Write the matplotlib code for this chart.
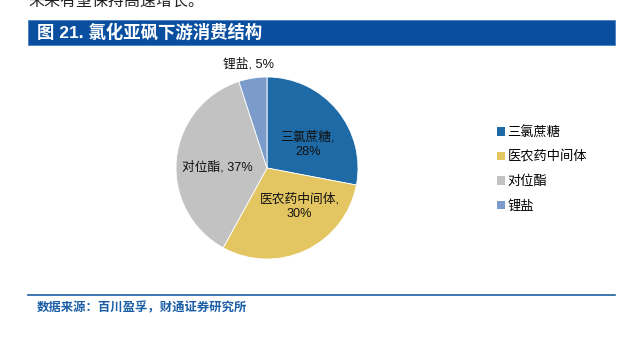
import matplotlib.pyplot as plt
from matplotlib.patches import Rectangle
from matplotlib.lines import Line2D

plt.rcParams["font.family"] = ["Liberation Sans", "Noto Sans CJK SC", "DejaVu Sans"]

categories = ["三氯蔗糖", "医农药中间体", "对位酯", "锂盐"]
shares = [28, 30, 37, 5]
colors = ["#1e6aa6", "#e3c662", "#c2c2c2", "#7b9ccb"]

W, H = 633, 338
fig = plt.figure(figsize=(W / 100, H / 100), dpi=100)


def fx(px):
    return px / W


def fy(py):
    return 1 - py / H


# line of body text cut off at the top edge
fig.text(fx(28), fy(6), "未来有望保持高速增长。", fontsize=11.5, color="#222222",
         va="baseline", ha="left")

# title bar
fig.patches.append(Rectangle((fx(27.5), fy(45)), fx(615) - fx(27.5), fy(19.5) - fy(45),
                             transform=fig.transFigure, facecolor="#0a4f9f",
                             edgecolor="#4a7fc0", linewidth=0.6))
fig.text(fx(37), fy(32.5), "图 21. 氯化亚砜下游消费结构", fontsize=12.5, color="white",
         fontweight="bold", va="center", ha="left")

# pie
cx, cy, r = 267, 168, 91
ax = fig.add_axes([fx(cx - r), fy(cy + r), 2 * r / W, 2 * r / H])
wedges, _ = ax.pie(shares, colors=colors, startangle=90, counterclock=False,
                   radius=1.0, wedgeprops=dict(linewidth=0.6, edgecolor="white"))
ax.set_xlim(-1, 1)
ax.set_ylim(-1, 1)
ax.set_aspect("equal")
ax.axis("off")

label_pos = [(0.45, 0.26), (0.36, -0.42), (-0.55, 0.01), (-0.20, 1.14)]
for name, val, (lx, ly) in zip(categories, shares, label_pos):
    txt = f"{name},\n{val}%" if name in ("三氯蔗糖", "医农药中间体") else f"{name}, {val}%"
    ax.text(lx, ly, txt, ha="center", va="center", fontsize=9.2, color="#111111",
            linespacing=1.25, clip_on=False)

# legend
handles = [Rectangle((0, 0), 1, 1, facecolor=c, edgecolor="none") for c in colors]
fig.legend(handles, categories, loc="upper left", bbox_to_anchor=(fx(497), fy(126)),
           frameon=False, fontsize=9.5, handlelength=0.6, handleheight=0.6,
           handletextpad=0.2, labelspacing=0.9, borderaxespad=0, borderpad=0)

# source line
fig.lines.append(Line2D([fx(27.5), fx(615)], [fy(294.5), fy(294.5)],
                        transform=fig.transFigure, color="#1f5f9f", linewidth=1.2))
fig.text(fx(37), fy(308), "数据来源：百川盈孚，财通证券研究所", fontsize=8.9,
         color="#1b5ea6", fontweight="bold", va="center", ha="left")

fig.savefig("out.png", dpi=100)
